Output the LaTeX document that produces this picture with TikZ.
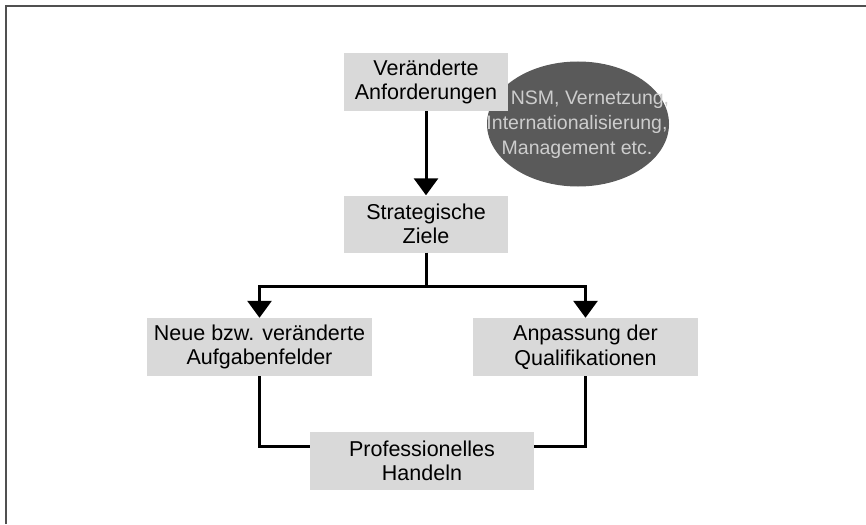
\documentclass[tikz,border=0pt]{standalone}
\usepackage{fontspec}
\setmainfont{Liberation Sans}
\usetikzlibrary{shapes.geometric,arrows.meta}
\definecolor{boxgray}{HTML}{D9D9D9}
\definecolor{ovalgray}{HTML}{5A5A5A}
\definecolor{ovaltext}{HTML}{CDCDCD}
\definecolor{framegray}{HTML}{505050}
\begin{document}
\begin{tikzpicture}[x=1pt,y=-1pt,
  box/.style={rectangle, fill=boxgray, inner sep=0pt, minimum height=58pt,
    align=center, font=\fontsize{21.5}{24.5}\selectfont},
  link/.style={line width=3pt},
  arr/.style={line width=3pt, -{Triangle[length=17pt,width=24pt]}},
]
\useasboundingbox (0,0) rectangle (866,524);
% open frame: top and left edges
\draw[framegray, line width=2pt] (6,524) -- (6,6) -- (866,6);

% grey oval behind the first box
\node[ellipse, fill=ovalgray, inner sep=0pt, minimum width=182pt, minimum height=125pt] (ell) at (578,124) {};

% boxes
\node[box, minimum width=164pt] (b1) at (426,82) {Veränderte\\Anforderungen};
\node[box, minimum width=164pt, minimum height=57pt] (b2) at (426,224) {Strategische\\Ziele};
\node[box, minimum width=225pt] (b3) at (259.5,347) {Neue bzw. veränderte\\Aufgabenfelder};
\node[box, minimum width=225pt] (b4) at (585.5,347) {Anpassung der\\Qualifikationen};
\node[box, minimum width=224pt] (b5) at (422,461) {Professionelles\\Handeln};

% examples written over the oval (first line set off by a leading space)
\node[text=ovaltext, align=center, inner sep=0pt, font=\fontsize{19.5}{25}\selectfont] (elltext) at (577,125)
  {\hspace*{26pt}NSM, Vernetzung,\\Internationalisierung,\\Management etc.};

% connectors
\coordinate (split) at (426,286);
\draw[arr] (b1) -- (b2);
\draw[link] (b2.south) -- (split);
\draw[arr] (split) -| (b3.north);
\draw[arr] (split) -| (b4.north);
\draw[link] (b3.south) |- ([yshift=15pt]b5.west);
\draw[link] (b4.south) |- ([yshift=15pt]b5.east);
\end{tikzpicture}
\end{document}
